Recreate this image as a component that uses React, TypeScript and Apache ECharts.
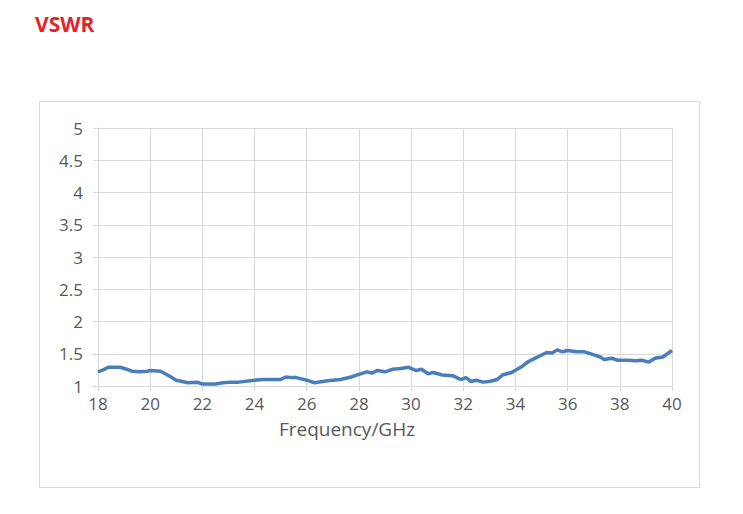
import React, { useEffect, useRef } from "react";
import * as echarts from "echarts";

// Measured VSWR across the 18–40 GHz band
const freqGHz = [
  18.0, 18.2, 18.4, 18.85, 19.1, 19.3, 19.6, 19.9, 20.0, 20.4, 20.75, 21.0, 21.45, 21.8,
  22.0, 22.25, 22.5, 22.8, 23.1, 23.4, 24.0, 24.3, 24.7, 25.0, 25.2, 25.4, 25.6, 26.0,
  26.3, 26.8, 27.3, 27.7, 28.0, 28.3, 28.5, 28.7, 29.0, 29.3, 29.6, 29.9, 30.2, 30.4,
  30.65, 30.85, 31.2, 31.6, 31.9, 32.1, 32.3, 32.5, 32.75, 33.0, 33.3, 33.5, 33.85, 34.2,
  34.5, 34.8, 35.2, 35.4, 35.6, 35.8, 36.0, 36.35, 36.65, 36.95, 37.25, 37.4, 37.7, 37.9,
  38.3, 38.6, 38.85, 39.1, 39.35, 39.65, 40.0,
];
const vswr = [
  1.22, 1.25, 1.29, 1.29, 1.26, 1.23, 1.22, 1.23, 1.24, 1.23, 1.15, 1.09, 1.05, 1.06,
  1.03, 1.03, 1.03, 1.05, 1.06, 1.06, 1.09, 1.10, 1.10, 1.10, 1.14, 1.13, 1.13, 1.09,
  1.05, 1.08, 1.10, 1.14, 1.18, 1.22, 1.20, 1.24, 1.22, 1.26, 1.27, 1.29, 1.24, 1.26,
  1.19, 1.21, 1.17, 1.16, 1.10, 1.13, 1.07, 1.09, 1.06, 1.07, 1.10, 1.17, 1.21, 1.29,
  1.38, 1.44, 1.52, 1.51, 1.56, 1.53, 1.55, 1.53, 1.53, 1.49, 1.45, 1.41, 1.43, 1.40,
  1.40, 1.39, 1.40, 1.37, 1.43, 1.45, 1.55,
];

const TITLE = "VSWR";
const X_NAME = "Frequency/GHz";

const labelColor = "#595959";
const gridColor = "#d9d9d9";
const lineColor = "#4a7ebb";
const font = "'Open Sans', 'Noto Sans', sans-serif";

export default function App() {
  const ref = useRef<HTMLDivElement>(null);

  useEffect(() => {
    if (!ref.current) return;
    const chart = echarts.init(ref.current, undefined, { renderer: "svg" });
    chart.setOption({
      animation: false,
      backgroundColor: "#ffffff",
      textStyle: { fontFamily: font },
      graphic: [
        {
          type: "rect",
          shape: { x: 31.5, y: 93.5, width: 660, height: 386 },
          style: { fill: "none", stroke: gridColor, lineWidth: 1 },
          silent: true,
        },
        {
          type: "text",
          left: 27,
          top: 5,
          style: {
            text: TITLE,
            fill: "#e8202a",
            font: `bold 21px ${font}`,
          },
        },
        // axis title sits left of the plot centre
        {
          type: "text",
          x: 339,
          y: 411,
          style: {
            text: X_NAME,
            fill: labelColor,
            font: `19px ${font}`,
            textAlign: "center",
            textVerticalAlign: "top",
          },
        },
      ],
      grid: { left: 90, right: 63, top: 120, bottom: 120 },
      xAxis: {
        type: "value",
        min: 18,
        max: 40,
        interval: 2,
        axisLine: { show: true, lineStyle: { color: gridColor, width: 1 } },
        axisTick: { show: true, length: 5, lineStyle: { color: gridColor } },
        axisLabel: { color: labelColor, fontSize: 17, margin: 9, fontFamily: font },
        splitLine: { show: true, lineStyle: { color: gridColor, width: 1 } },
      },
      yAxis: {
        type: "value",
        min: 1,
        max: 5,
        interval: 0.5,
        axisLine: { show: true, lineStyle: { color: gridColor, width: 1 } },
        axisTick: { show: true, inside: false, length: 5, lineStyle: { color: gridColor } },
        axisLabel: { color: labelColor, fontSize: 17, margin: 15, fontFamily: font },
        splitLine: { show: true, lineStyle: { color: gridColor, width: 1 } },
      },
      series: [
        {
          type: "line",
          data: freqGHz.map((f, i) => [f, vswr[i]]),
          showSymbol: false,
          smooth: false,
          lineStyle: { color: lineColor, width: 3.5 },
          itemStyle: { color: lineColor },
        },
      ],
    });
    return () => chart.dispose();
  }, []);

  return <div ref={ref} style={{ width: 727, height: 498 }} />;
}
